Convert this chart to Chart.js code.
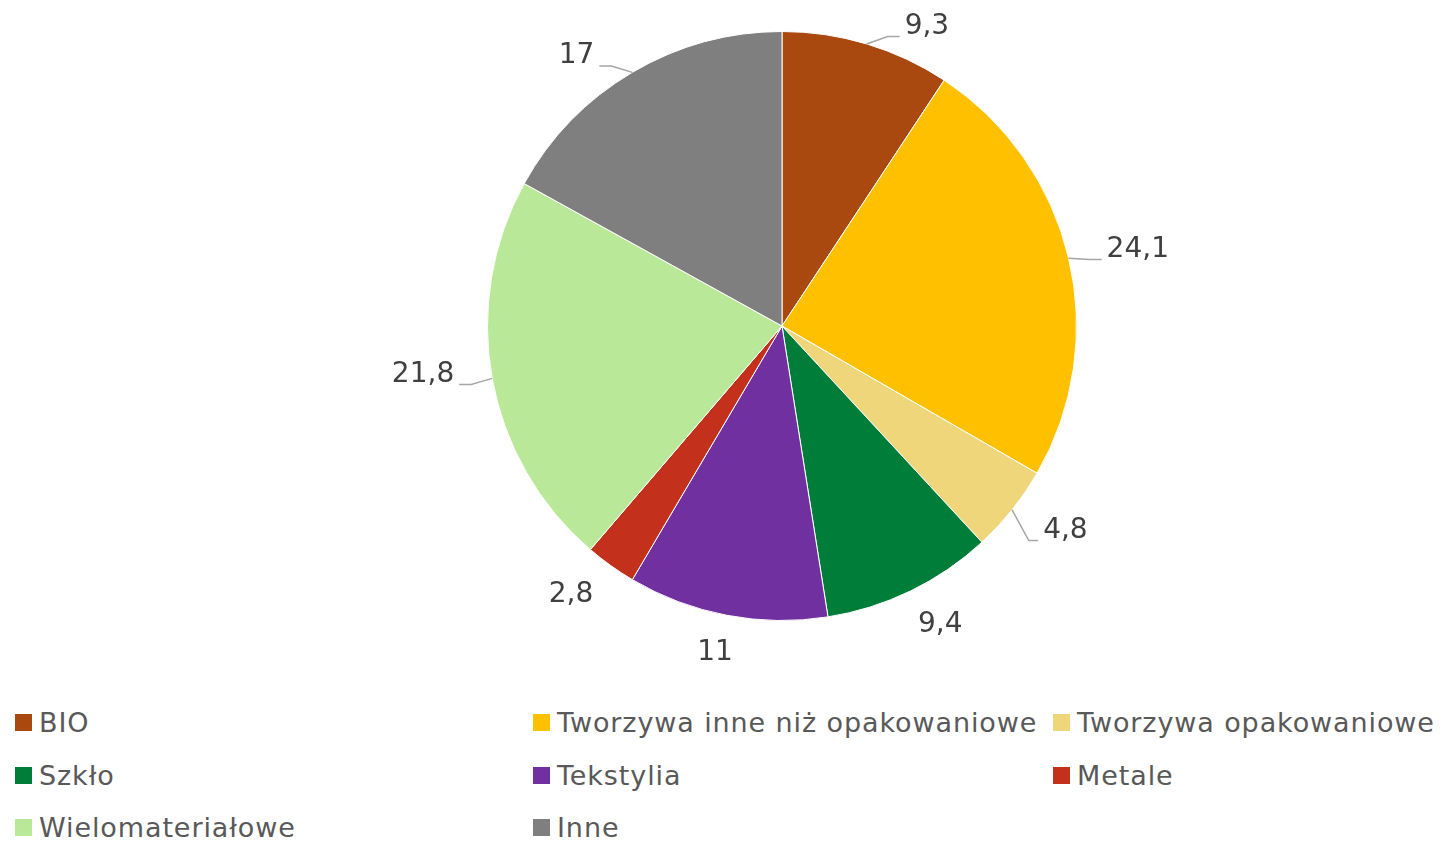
<!DOCTYPE html>
<html lang="pl">
<head>
<meta charset="utf-8">
<title>Struktura odpadów</title>
<script src="https://cdn.jsdelivr.net/npm/chart.js@4.4.1/dist/chart.umd.min.js"></script>
<style>
  html, body { margin: 0; padding: 0; background: #fff; }
  body { width: 1445px; height: 842px; position: relative; overflow: hidden;
         font-family: "DejaVu Sans", sans-serif; }
  #chart { position: absolute; left: 0; top: 0; }
  #legend { position: absolute; left: 0; top: 707px; width: 1445px; }
  .item { position: absolute; display: flex; align-items: center; font-size: 27px; letter-spacing: 0.9px; color: #595959; white-space: nowrap; }
  .box { width: 17px; height: 17px; margin-right: 7px; }
</style>
</head>
<body>
<canvas id="chart" width="1445" height="690"></canvas>
<div id="legend"></div>
<script>
const categories = ['BIO', 'Tworzywa inne niż opakowaniowe', 'Tworzywa opakowaniowe', 'Szkło', 'Tekstylia', 'Metale', 'Wielomateriałowe', 'Inne'];
const shares = [9.3, 24.1, 4.8, 9.4, 11, 2.8, 21.8, 17];
const colors = ['#A9490F', '#FFC000', '#F0D67A', '#007E39', '#7030A0', '#C3301C', '#B9E898', '#7F7F7F'];

// podpisy wartości na zewnątrz wycinków, z liniami odniesienia
const outsideLabels = {
  id: 'outsideLabels',
  afterDatasetsDraw(chart) {
    const ctx = chart.ctx;
    const meta = chart.getDatasetMeta(0);
    ctx.save();
    ctx.font = '28px "DejaVu Sans", sans-serif';
    ctx.textBaseline = 'middle';
    meta.data.forEach((arc, i) => {
      const r = arc.outerRadius;
      const mid = (arc.startAngle + arc.endAngle) / 2;
      const cos = Math.cos(mid), sin = Math.sin(mid);
      const text = String(shares[i]).replace('.', ',');
      const w = ctx.measureText(text).width, h = 28;
      const ex = arc.x + cos * r, ey = arc.y + sin * r;

      let cx, cy;
      if (sin < 0.3) {
        // górna część: podpis odsunięty w bok
        cx = ex + Math.sign(cos) * (w / 2 + 38);
        cy = ey + sin * 12 - 6;
      } else {
        // dolna część: podpis odsunięty promieniowo
        cx = arc.x + cos * (r + 46) + cos * w / 2;
        cy = arc.y + sin * (r + 46) - 8;
      }

      const right = cx >= arc.x;
      const lx = right ? cx - w / 2 - 5 : cx + w / 2 + 5;
      const ly = cy + 10;
      const tick = sin < 0.3 ? 12 : 12 * Math.abs(cos);
      // odległość od krawędzi koła do ramki podpisu
      const bx = Math.max(cx - w / 2, Math.min(ex, cx + w / 2));
      const by = Math.max(cy - h / 2, Math.min(ey, cy + h / 2));
      if (Math.hypot(bx - ex, by - ey) > 26) {
        ctx.strokeStyle = '#A6A6A6';
        ctx.lineWidth = 1.5;
        ctx.beginPath();
        ctx.moveTo(ex, ey);
        ctx.lineTo(right ? lx - tick : lx + tick, ly);
        ctx.lineTo(lx, ly);
        ctx.stroke();
      }

      ctx.fillStyle = '#404040';
      ctx.textAlign = 'center';
      ctx.fillText(text, cx, cy);
    });
    ctx.restore();
  }
};

new Chart(document.getElementById('chart'), {
  type: 'pie',
  data: {
    labels: categories,
    datasets: [{
      data: shares,
      backgroundColor: colors,
      borderColor: '#ffffff',
      borderWidth: 1
    }]
  },
  options: {
    responsive: false,
    animation: false,
    layout: { padding: { left: 119, top: 31, bottom: 69, right: 0 } },
    plugins: {
      legend: { display: false },
      tooltip: { enabled: false }
    }
  },
  plugins: [outsideLabels]
});

// legenda w trzech kolumnach
const legendCols = [15, 533, 1053];
const legend = document.getElementById('legend');
categories.forEach((name, i) => {
  const el = document.createElement('div');
  el.className = 'item';
  el.style.left = legendCols[i % 3] + 'px';
  el.style.top = (Math.floor(i / 3) * 52.5) + 'px';
  el.innerHTML = '<span class="box" style="background:' + colors[i] + '"></span><span>' + name + '</span>';
  legend.appendChild(el);
});
</script>
</body>
</html>
